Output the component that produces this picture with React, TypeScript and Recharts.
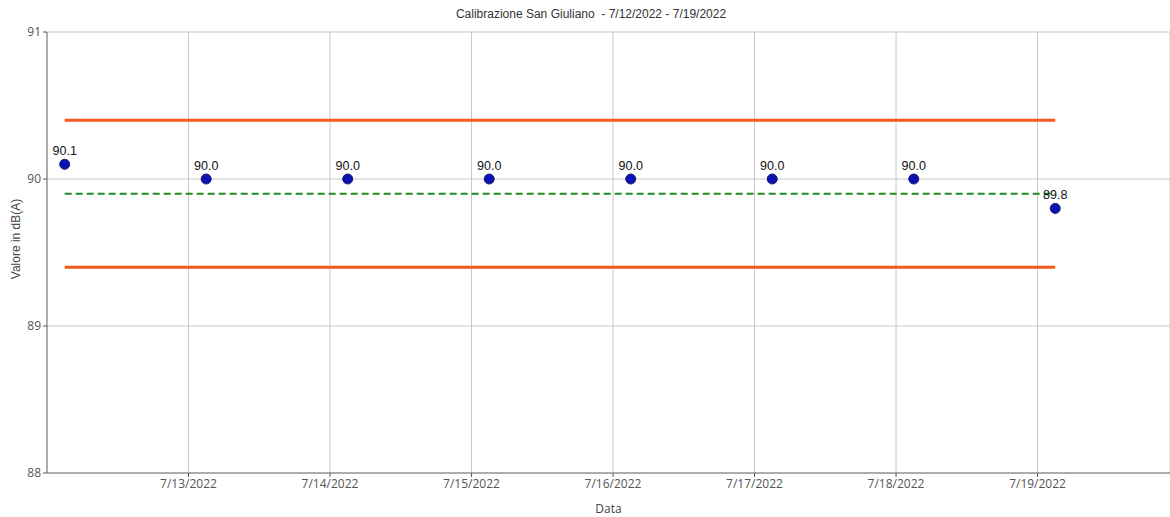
import {
  LineChart,
  Line,
  XAxis,
  YAxis,
  CartesianGrid,
  LabelList,
} from 'recharts'

const DAY = 24 * 60 * 60 * 1000
const START = Date.UTC(2022, 6, 12)

// calibration readings (UTC timestamps, around 03:00 each day)
const readingTimes = [
  '2022-07-12T03:00:00Z',
  '2022-07-13T03:00:00Z',
  '2022-07-14T03:00:00Z',
  '2022-07-15T03:00:00Z',
  '2022-07-16T03:00:00Z',
  '2022-07-17T03:00:00Z',
  '2022-07-18T03:00:00Z',
  '2022-07-19T03:00:00Z',
]
const readings = [90.1, 90.0, 90.0, 90.0, 90.0, 90.0, 90.0, 89.8]
const upperLimit = [90.4, 90.4, 90.4, 90.4, 90.4, 90.4, 90.4, 90.4]
const lowerLimit = [89.4, 89.4, 89.4, 89.4, 89.4, 89.4, 89.4, 89.4]
const reference = [89.9, 89.9, 89.9, 89.9, 89.9, 89.9, 89.9, 89.9]

const xTickDates = [
  '2022-07-13T00:00:00Z',
  '2022-07-14T00:00:00Z',
  '2022-07-15T00:00:00Z',
  '2022-07-16T00:00:00Z',
  '2022-07-17T00:00:00Z',
  '2022-07-18T00:00:00Z',
  '2022-07-19T00:00:00Z',
]
const yTicks = [88, 89, 90, 91]

const data = readingTimes.map((t, i) => ({
  t: Date.parse(t),
  value: readings[i],
  upper: upperLimit[i],
  lower: lowerLimit[i],
  ref: reference[i],
}))

const xTicks = xTickDates.map((d) => Date.parse(d))

const fmtDate = (v: number) => {
  const d = new Date(v)
  return `${d.getUTCMonth() + 1}/${d.getUTCDate()}/${d.getUTCFullYear()}`
}

const tickStyle = { fontSize: 12, fill: '#555', fontFamily: '"Open Sans", sans-serif' }
const arial = '"Liberation Sans", Arial, sans-serif'

function Dot(props: any) {
  const { cx, cy } = props
  if (cx == null || cy == null) return null
  return <circle cx={cx} cy={cy} r={5} fill="#0a14b4" stroke="#1a1a6e" strokeWidth={1} />
}

function YLabel() {
  return (
    <text
      x={16}
      y={239}
      transform="rotate(-90 16 239)"
      textAnchor="middle"
      dominantBaseline="central"
      fontSize={12}
      fill="#444"
      fontFamily={arial}
    >
      Valore in dB(A)
    </text>
  )
}

export default function App() {
  return (
    <div style={{ position: 'absolute', left: 0, top: 0, width: 1170, height: 517, background: '#fff' }}>
      <div
        style={{
          position: 'absolute',
          top: 7,
          left: 0,
          width: 1182,
          textAlign: 'center',
          fontSize: 12,
          color: '#333',
          fontFamily: arial,
          whiteSpace: 'pre',
        }}
      >
        {'Calibrazione San Giuliano  - 7/12/2022 - 7/19/2022'}
      </div>
      <LineChart
        width={1170}
        height={517}
        data={data}
        margin={{ top: 32, right: 0, left: 0, bottom: 0 }}
      >
        <CartesianGrid stroke="#c8c8c8" strokeWidth={1} />
        <XAxis
          dataKey="t"
          type="number"
          scale="linear"
          domain={[START, START + 7.936 * DAY]}
          ticks={xTicks}
          tickFormatter={fmtDate}
          tick={tickStyle}
          tickLine={{ stroke: '#555' }}
          tickSize={4}
          axisLine={{ stroke: '#777' }}
          height={44}
          allowDataOverflow
          label={{
            value: 'Data',
            position: 'insideBottom',
            offset: 4,
            style: { fontSize: 12, fill: '#444', fontFamily: '"Open Sans", sans-serif' },
          }}
        />
        <YAxis
          type="number"
          domain={[88, 91]}
          ticks={yTicks}
          tick={tickStyle}
          tickLine={{ stroke: '#555' }}
          tickSize={4}
          axisLine={{ stroke: '#777' }}
          width={47}
          label={<YLabel />}
        />
        <Line
          dataKey="upper"
          stroke="#f4581c"
          strokeWidth={3}
          dot={false}
          activeDot={false}
          isAnimationActive={false}
        />
        <Line
          dataKey="lower"
          stroke="#f4581c"
          strokeWidth={3}
          dot={false}
          activeDot={false}
          isAnimationActive={false}
        />
        <Line
          dataKey="ref"
          stroke="#1e8c1e"
          strokeWidth={2}
          strokeDasharray="7 4"
          dot={false}
          activeDot={false}
          isAnimationActive={false}
        />
        <Line
          dataKey="value"
          stroke="none"
          dot={<Dot />}
          activeDot={false}
          isAnimationActive={false}
        >
          <LabelList
            dataKey="value"
            position="top"
            offset={9}
            formatter={(v: any) => Number(v).toFixed(1)}
            style={{ fontSize: 12.5, fill: '#111', fontFamily: arial }}
          />
        </Line>
      </LineChart>
    </div>
  )
}
